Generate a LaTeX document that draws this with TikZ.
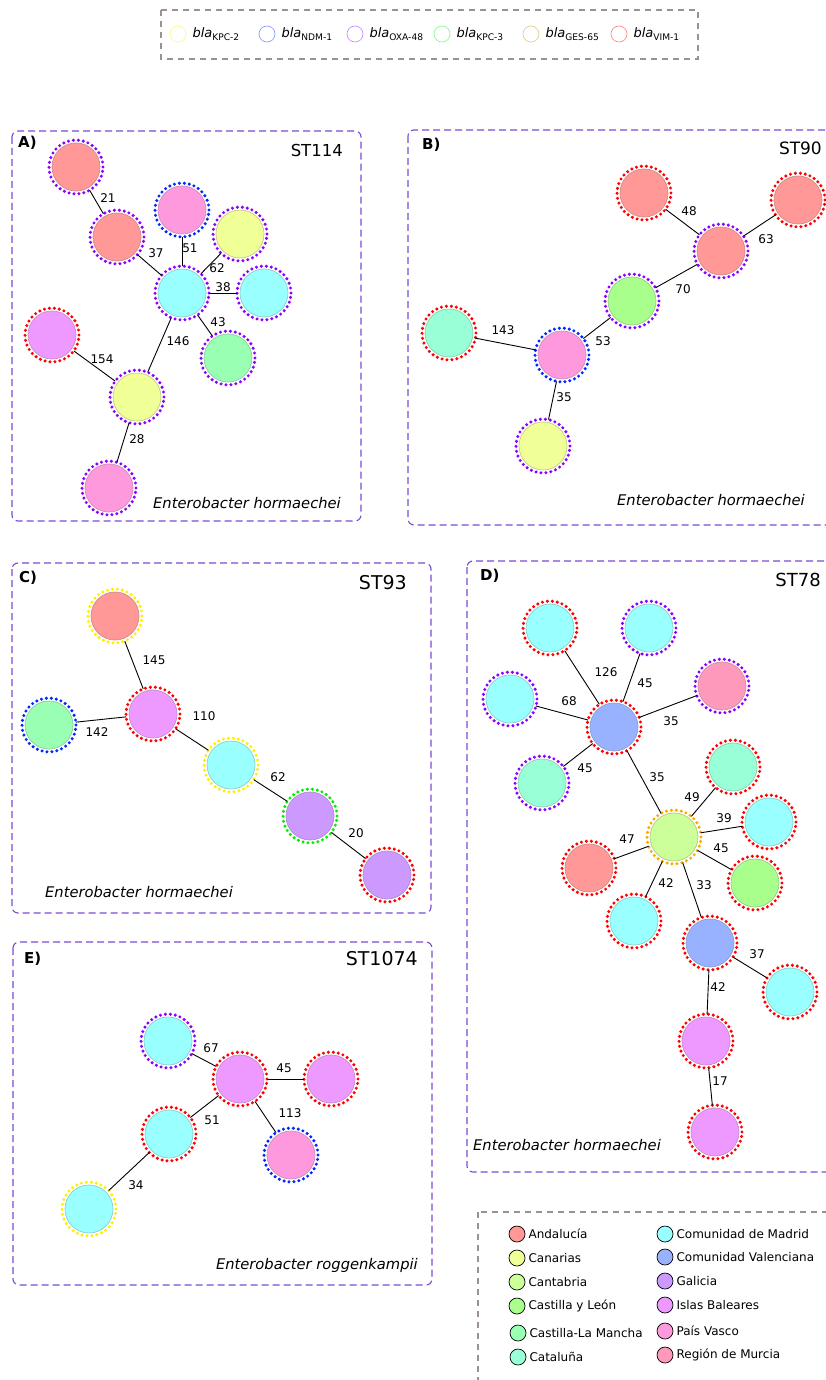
\documentclass[tikz,border=0pt]{standalone}
\usepackage{fontspec}
\setmainfont{DejaVu Sans}
\usetikzlibrary{positioning}

% regions
\definecolor{rAnd}{RGB}{255,152,150}
\definecolor{rCan}{RGB}{240,255,150}
\definecolor{rCant}{RGB}{204,255,153}
\definecolor{rCyL}{RGB}{168,255,140}
\definecolor{rCLM}{RGB}{153,255,178}
\definecolor{rCat}{RGB}{153,255,214}
\definecolor{rMad}{RGB}{153,255,255}
\definecolor{rVal}{RGB}{153,178,255}
\definecolor{rGal}{RGB}{204,153,255}
\definecolor{rBal}{RGB}{238,153,255}
\definecolor{rVas}{RGB}{255,153,221}
\definecolor{rMur}{RGB}{255,153,187}
% genes
\definecolor{gK2}{RGB}{255,240,0}
\definecolor{gN1}{RGB}{0,40,255}
\definecolor{gO48}{RGB}{140,0,255}
\definecolor{gK3}{RGB}{0,240,0}
\definecolor{gG65}{RGB}{255,170,0}
\definecolor{gV1}{RGB}{255,0,0}
\definecolor{gG65leg}{RGB}{228,205,150}
\definecolor{panelc}{RGB}{118,75,212}
\definecolor{legc}{RGB}{155,145,145}

\begin{document}
\begin{tikzpicture}[x=1pt, y=-1pt,
    st/.style 2 args={circle, minimum size=54pt, inner sep=0pt, outer sep=0pt,
      draw=#2, line width=3.4pt, dash pattern=on 0pt off 5pt, line cap=round,
      path picture={\draw[solid, line width=0.7pt, fill=#1, draw=#1!60!gray]
        (path picture bounding box.center) circle (24pt);}},
    edge/.style={line width=0.9pt},
    lbl/.style={font=\fontsize{12}{14}\selectfont, inner sep=0pt},
    panel/.style={draw=panelc, line width=1.1pt, dash pattern=on 7pt off 4pt, rounded corners=6pt},
    legbox/.style={draw=legc, line width=1.1pt, dash pattern=on 6pt off 5pt},
    tag/.style={font=\fontsize{15}{17}\selectfont\bfseries, anchor=west, inner sep=0pt},
    sttitle/.style={font=\fontsize{#1}{22}\selectfont, anchor=east, inner sep=0pt},
    species/.style={font=\fontsize{14.7}{17}\selectfont\itshape, inner sep=0pt},
    gleg/.style={circle, minimum size=16pt, inner sep=0pt, line width=0.7pt},
    rleg/.style={circle, minimum size=16pt, inner sep=0pt, draw=black, line width=0.7pt},
    legtxt/.style={font=\fontsize{12}{14}\selectfont, right=3pt of #1, inner sep=0pt}]
  \useasboundingbox (0,0) rectangle (826,1380);
  \clip (0,0) rectangle (826,1380);

  % gene legend
  \draw[legbox] (161,10) rectangle (698,59);
  \node[gleg, draw=gK2!45] (lK2) at (178,34) {};
  \node[gleg, draw=gN1!45] (lN1) at (267,34) {};
  \node[gleg, draw=gO48!45] (lO48) at (355,34) {};
  \node[gleg, draw=gK3!45] (lK3) at (442,34) {};
  \node[gleg, draw=gG65leg] (lG65) at (531,34) {};
  \node[gleg, draw=gV1!45] (lV1) at (619,34) {};
  \foreach \g/\t in {lK2/KPC-2, lN1/NDM-1, lO48/OXA-48, lK3/KPC-3, lG65/GES-65, lV1/VIM-1}
    \node[font=\fontsize{13}{15}\selectfont, right=6pt of \g, inner sep=0pt] (\g t) {\textit{bla}\textsubscript{\t}};

  % A) ST114
  \draw[panel] (12,131) rectangle (361,521);
  \node[tag] (tA) at (18,143) {A)};
  \node[sttitle=16.5] (nA) at (343,150) {ST114};
  \node[species, anchor=east] (sA) at (341,503) {Enterobacter hormaechei};
  \node[st={rAnd}{gO48}] (a1) at (76,167) {};
  \node[st={rAnd}{gO48}] (a2) at (117,237) {};
  \node[st={rVas}{gN1}] (a3) at (182,210) {};
  \node[st={rCan}{gO48}] (a4) at (240,234) {};
  \node[st={rMad}{gO48}] (a5) at (182,293) {};
  \node[st={rMad}{gO48}] (a6) at (264,293) {};
  \node[st={rCLM}{gO48}] (a7) at (228,358) {};
  \node[st={rBal}{gV1}] (a8) at (52,335) {};
  \node[st={rCan}{gO48}] (a9) at (137,397) {};
  \node[st={rVas}{gO48}] (a10) at (109,488) {};
  \draw[edge] (a1) -- (a2) node[lbl] (a12) at (108,198) {21};
  \draw[edge] (a2) -- (a5) node[lbl] (a25) at (156,253) {37};
  \draw[edge] (a3) -- (a5) node[lbl] (a35) at (190,248) {51};
  \draw[edge] (a4) -- (a5) node[lbl] (a45) at (217,268) {62};
  \draw[edge] (a5) -- (a6) node[lbl] (a56) at (223,287) {38};
  \draw[edge] (a5) -- (a7) node[lbl] (a57) at (218,322) {43};
  \draw[edge] (a5) -- (a9) node[lbl] (a59) at (178,341) {146};
  \draw[edge] (a8) -- (a9) node[lbl] (a89) at (102,359) {154};
  \draw[edge] (a9) -- (a10) node[lbl] (a910) at (137,439) {28};

  % B) ST90
  \draw[panel] (408,130) rectangle (850,525);
  \node[tag] (tB) at (422,145) {B)};
  \node[sttitle=17] (nB) at (822,148) {ST90};
  \node[species, anchor=east] (sB) at (805,500) {Enterobacter hormaechei};
  \node[st={rAnd}{gV1}] (b1) at (644,193) {};
  \node[st={rAnd}{gV1}] (b2) at (798,200) {};
  \node[st={rAnd}{gO48}] (b3) at (721,251) {};
  \node[st={rCyL}{gO48}] (b4) at (632,301) {};
  \node[st={rCat}{gV1}] (b5) at (449,333) {};
  \node[st={rVas}{gN1}] (b6) at (562,355) {};
  \node[st={rCan}{gO48}] (b7) at (543,446) {};
  \draw[edge] (b1) -- (b3) node[lbl] (b13) at (689,211) {48};
  \draw[edge] (b2) -- (b3) node[lbl] (b23) at (766,239) {63};
  \draw[edge] (b3) -- (b4) node[lbl] (b34) at (683,289) {70};
  \draw[edge] (b4) -- (b6) node[lbl] (b46) at (603,341) {53};
  \draw[edge] (b5) -- (b6) node[lbl] (b56) at (503,330) {143};
  \draw[edge] (b6) -- (b7) node[lbl] (b67) at (564,397) {35};

  % C) ST93
  \draw[panel] (12,563) rectangle (431,913);
  \node[tag] (tC) at (19,578) {C)};
  \node[sttitle=19] (nC) at (407,583) {ST93};
  \node[species, anchor=west] (sC) at (45,892) {Enterobacter hormaechei};
  \node[st={rAnd}{gK2}] (c1) at (115,616) {};
  \node[st={rBal}{gV1}] (c2) at (153,714) {};
  \node[st={rCLM}{gN1}] (c3) at (49,725) {};
  \node[st={rMad}{gK2}] (c4) at (231,765) {};
  \node[st={rGal}{gK3}] (c5) at (310,816) {};
  \node[st={rGal}{gV1}] (c6) at (387,875) {};
  \draw[edge] (c1) -- (c2) node[lbl] (c12) at (154,660) {145};
  \draw[edge] (c3) -- (c2) node[lbl] (c32) at (97,732) {142};
  \draw[edge] (c2) -- (c4) node[lbl] (c24) at (204,716) {110};
  \draw[edge] (c4) -- (c5) node[lbl] (c45) at (278,777) {62};
  \draw[edge] (c5) -- (c6) node[lbl] (c56) at (356,833) {20};

  % D) ST78
  \draw[panel] (467,561) rectangle (850,1172);
  \node[tag] (tD) at (480,576) {D)};
  \node[sttitle=18] (nD) at (821,580) {ST78};
  \node[species, anchor=west] (sD) at (473,1145) {Enterobacter hormaechei};
  \node[st={rMad}{gV1}] (d1) at (550,628) {};
  \node[st={rMad}{gO48}] (d2) at (649,628) {};
  \node[st={rMad}{gO48}] (d3) at (510,699) {};
  \node[st={rMur}{gO48}] (d4) at (722,686) {};
  \node[st={rVal}{gV1}] (d5) at (614,727) {};
  \node[st={rCat}{gO48}] (d6) at (542,783) {};
  \node[st={rCat}{gV1}] (d7) at (733,767) {};
  \node[st={rCant}{gG65}] (d8) at (674,837) {};
  \node[st={rMad}{gV1}] (d9) at (769,822) {};
  \node[st={rAnd}{gV1}] (d10) at (589,868) {};
  \node[st={rCyL}{gV1}] (d11) at (755,883) {};
  \node[st={rMad}{gV1}] (d12) at (634,921) {};
  \node[st={rVal}{gV1}] (d13) at (710,943) {};
  \node[st={rMad}{gV1}] (d14) at (790,992) {};
  \node[st={rBal}{gV1}] (d15) at (706,1041) {};
  \node[st={rBal}{gV1}] (d16) at (715,1132) {};
  \draw[edge] (d1) -- (d5) node[lbl] (d15l) at (606,672) {126};
  \draw[edge] (d2) -- (d5) node[lbl] (d25l) at (645,683) {45};
  \draw[edge] (d3) -- (d5) node[lbl] (d35l) at (569,701) {68};
  \draw[edge] (d4) -- (d5) node[lbl] (d45l) at (671,721) {35};
  \draw[edge] (d6) -- (d5) node[lbl] (d65l) at (585,768) {45};
  \draw[edge] (d5) -- (d8) node[lbl] (d58l) at (657,777) {35};
  \draw[edge] (d8) -- (d7) node[lbl] (d87l) at (692,797) {49};
  \draw[edge] (d8) -- (d9) node[lbl] (d89l) at (724,818) {39};
  \draw[edge] (d8) -- (d11) node[lbl] (d811l) at (721,848) {45};
  \draw[edge] (d8) -- (d10) node[lbl] (d810l) at (627,839) {47};
  \draw[edge] (d8) -- (d12) node[lbl] (d812l) at (666,883) {42};
  \draw[edge] (d8) -- (d13) node[lbl] (d813l) at (704,885) {33};
  \draw[edge] (d13) -- (d14) node[lbl] (d1314l) at (757,954) {37};
  \draw[edge] (d13) -- (d15) node[lbl] (d1315l) at (718,987) {42};
  \draw[edge] (d15) -- (d16) node[lbl] (d1516l) at (720,1081) {17};

  % E) ST1074
  \draw[panel] (13,942) rectangle (432,1285);
  \node[tag] (tE) at (24,959) {E)};
  \node[sttitle=19] (nE) at (418,959) {ST1074};
  \node[species, anchor=east] (sE) at (418,1265) {Enterobacter roggenkampii};
  \node[st={rMad}{gO48}] (e1) at (168,1041) {};
  \node[st={rBal}{gV1}] (e2) at (240,1079) {};
  \node[st={rBal}{gV1}] (e3) at (331,1079) {};
  \node[st={rMad}{gV1}] (e4) at (169,1134) {};
  \node[st={rVas}{gN1}] (e5) at (291,1155) {};
  \node[st={rMad}{gK2}] (e6) at (89,1209) {};
  \draw[edge] (e1) -- (e2) node[lbl] (e12) at (211,1048) {67};
  \draw[edge] (e2) -- (e3) node[lbl] (e23) at (284,1068) {45};
  \draw[edge] (e2) -- (e4) node[lbl] (e24) at (212,1120) {51};
  \draw[edge] (e2) -- (e5) node[lbl] (e25) at (290,1113) {113};
  \draw[edge] (e4) -- (e6) node[lbl] (e46) at (136,1185) {34};

  % region legend
  \draw[legbox] (478,1212) rectangle (850,1400);
  \node[rleg, fill=rAnd] (rl1) at (517,1234) {};
  \node[rleg, fill=rCan] (rl2) at (517,1258) {};
  \node[rleg, fill=rCant] (rl3) at (517,1282) {};
  \node[rleg, fill=rCyL] (rl4) at (517,1306) {};
  \node[rleg, fill=rCLM] (rl5) at (518,1333) {};
  \node[rleg, fill=rCat] (rl6) at (518,1357) {};
  \node[rleg, fill=rMad] (rl7) at (665,1234) {};
  \node[rleg, fill=rVal] (rl8) at (665,1257) {};
  \node[rleg, fill=rGal] (rl9) at (665,1281) {};
  \node[rleg, fill=rBal] (rl10) at (665,1305) {};
  \node[rleg, fill=rVas] (rl11) at (665,1331) {};
  \node[rleg, fill=rMur] (rl12) at (665,1355) {};
  \node[legtxt=rl1] (rt1) {Andalucía};
  \node[legtxt=rl2] (rt2) {Canarias};
  \node[legtxt=rl3] (rt3) {Cantabria};
  \node[legtxt=rl4] (rt4) {Castilla y León};
  \node[legtxt=rl5] (rt5) {Castilla-La Mancha};
  \node[legtxt=rl6] (rt6) {Cataluña};
  \node[legtxt=rl7] (rt7) {Comunidad de Madrid};
  \node[legtxt=rl8] (rt8) {Comunidad Valenciana};
  \node[legtxt=rl9] (rt9) {Galicia};
  \node[legtxt=rl10] (rt10) {Islas Baleares};
  \node[legtxt=rl11] (rt11) {País Vasco};
  \node[legtxt=rl12] (rt12) {Región de Murcia};
\end{tikzpicture}
\end{document}
